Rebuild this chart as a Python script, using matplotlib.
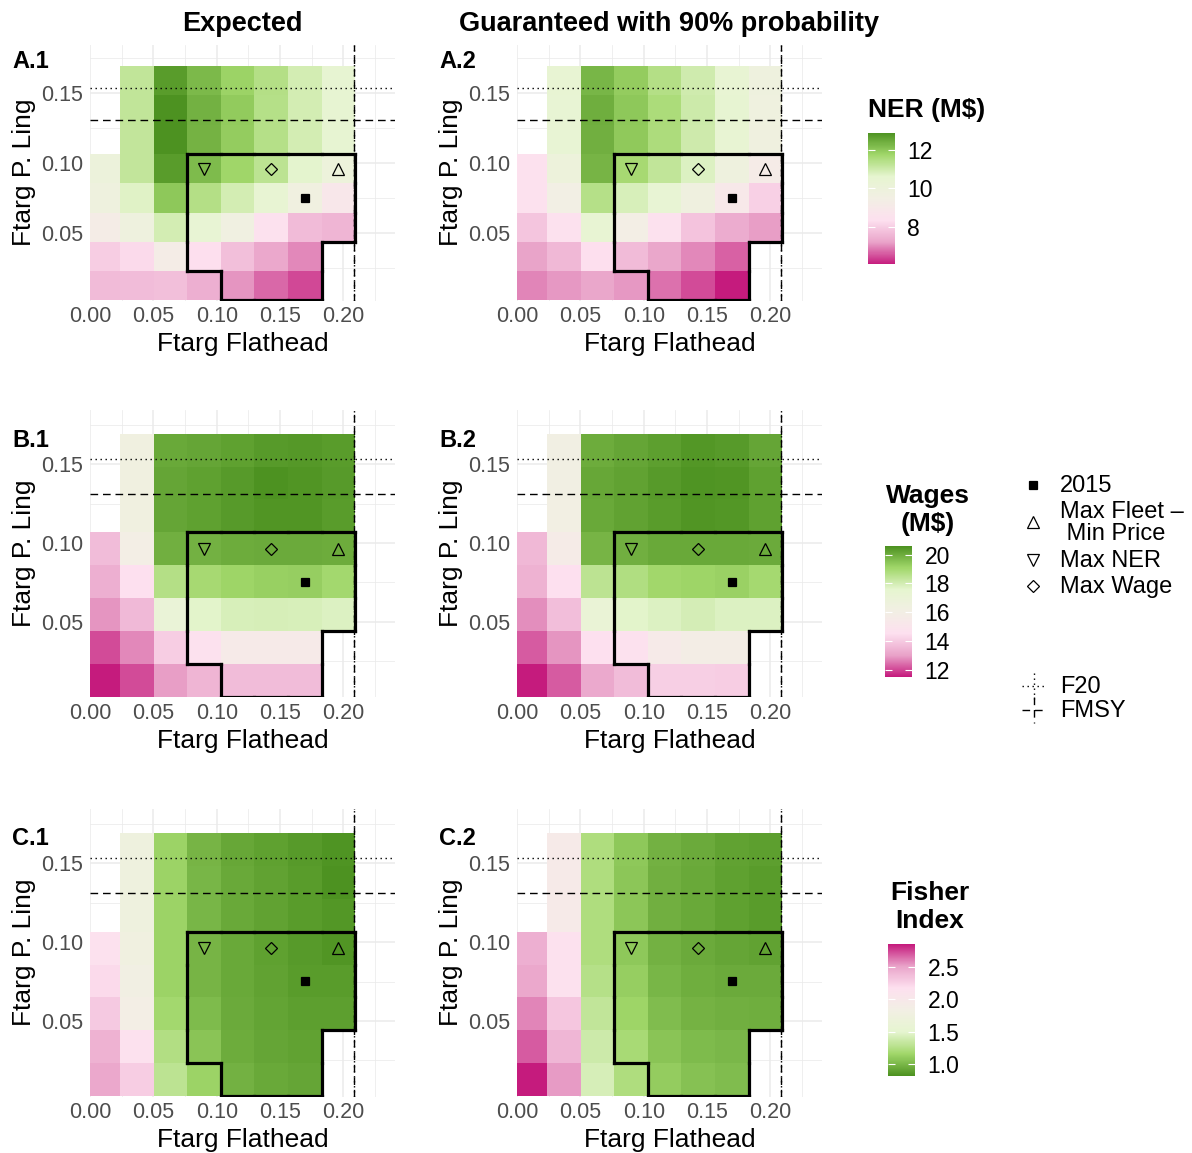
import numpy as np
import matplotlib
matplotlib.use("Agg")
import matplotlib.pyplot as plt
from matplotlib.colors import LinearSegmentedColormap, Normalize
from matplotlib.collections import LineCollection
from matplotlib.lines import Line2D
import matplotlib.cm as cm

plt.rcParams['font.family'] = ['Liberation Sans', 'DejaVu Sans']

W, H, DPI = 1192, 1153, 100
nan = np.nan

# ---------------- data ----------------
ftarg_flathead = [0.0105, 0.037, 0.0635, 0.09, 0.1165, 0.143, 0.1695, 0.196]
# rows listed from top (high Ftarg Ling) to bottom
ftarg_ling = [0.159, 0.1381, 0.1172, 0.0962, 0.0753, 0.0544, 0.0334, 0.0125]

ner_expected = [
    [nan, 11.22, 12.73, 12.25, 11.82, 11.43, 10.94, 10.50],
    [nan, 11.22, 12.90, 12.38, 11.94, 11.41, 10.94, 10.50],
    [nan, 11.20, 12.88, 12.36, 11.92, 11.40, 10.92, 10.48],
    [10.00, 11.20, 12.73, 12.21, 11.77, 11.30, 10.63, 9.95],
    [9.81, 10.70, 12.01, 11.44, 10.94, 10.43, 9.67, 8.90],
    [9.26, 9.81, 10.94, 10.38, 9.60, 8.43, 7.64, 7.51],
    [7.97, 8.23, 9.26, 8.30, 7.71, 7.29, 6.96, nan],
    [7.64, 7.66, 7.72, 7.40, 7.07, 6.70, 6.43, nan],
]
ner_guaranteed = [
    [nan, 10.43, 12.30, 11.92, 11.44, 10.98, 10.43, 9.81],
    [nan, 10.40, 12.42, 12.00, 11.56, 11.03, 10.46, 9.78],
    [nan, 10.38, 12.40, 11.98, 11.54, 11.00, 10.44, 9.76],
    [8.37, 9.95, 12.33, 11.64, 11.22, 10.77, 9.81, 9.19],
    [8.37, 9.47, 11.41, 10.84, 10.38, 9.74, 8.98, 8.02],
    [7.82, 8.37, 10.43, 9.40, 8.37, 7.78, 7.36, 7.15],
    [7.21, 7.57, 8.30, 7.64, 7.25, 6.96, 6.63, nan],
    [6.94, 7.08, 7.25, 7.08, 6.78, 6.44, 6.03, nan],
]
wages_expected = [
    [nan, 16.32, 20.07, 20.15, 20.26, 20.40, 20.44, 20.37],
    [nan, 16.32, 20.17, 20.28, 20.42, 20.60, 20.51, 20.42],
    [nan, 16.30, 20.15, 20.25, 20.40, 20.52, 20.50, 20.37],
    [13.64, 15.96, 19.95, 19.92, 20.00, 20.05, 20.05, 20.00],
    [13.32, 14.59, 18.67, 18.93, 19.12, 19.23, 19.28, 19.03],
    [12.87, 13.59, 17.02, 17.62, 17.87, 17.92, 17.87, 17.78],
    [12.05, 12.74, 14.07, 14.60, 15.50, 15.50, 15.50, nan],
    [11.50, 12.05, 12.98, 13.49, 13.64, 13.66, 13.64, nan],
]
wages_guaranteed = [
    [nan, 16.14, 20.00, 20.15, 20.31, 20.46, 20.40, 20.17],
    [nan, 16.14, 20.11, 20.22, 20.39, 20.55, 20.50, 20.25],
    [nan, 16.12, 20.07, 20.22, 20.37, 20.52, 20.46, 20.25],
    [13.54, 15.69, 19.83, 19.94, 20.07, 20.07, 20.07, 20.05],
    [13.39, 14.59, 18.49, 18.72, 19.05, 19.14, 19.19, 18.98],
    [12.79, 13.67, 17.10, 17.62, 17.78, 17.96, 17.78, 17.78],
    [12.24, 12.87, 14.59, 14.60, 15.50, 15.87, 15.87, nan],
    [11.50, 12.24, 13.19, 13.64, 14.11, 14.11, 14.07, nan],
]
fisher_expected = [
    [nan, 1.73, 1.135, 0.988, 0.925, 0.892, 0.860, 0.825],
    [nan, 1.73, 1.137, 0.990, 0.928, 0.900, 0.866, 0.815],
    [nan, 1.73, 1.137, 0.990, 0.928, 0.900, 0.866, 0.840],
    [2.158, 1.77, 1.140, 0.988, 0.928, 0.892, 0.860, 0.835],
    [2.200, 1.81, 1.140, 0.988, 0.928, 0.900, 0.868, 0.870],
    [2.300, 1.853, 1.170, 1.020, 0.937, 0.905, 0.880, 0.880],
    [2.427, 2.158, 1.242, 1.065, 0.950, 0.917, 0.896, nan],
    [2.478, 2.276, 1.287, 1.135, 0.968, 0.928, 0.917, nan],
]
fisher_guaranteed = [
    [nan, 1.955, 1.226, 1.082, 0.968, 0.937, 0.900, 0.880],
    [nan, 1.955, 1.226, 1.070, 0.960, 0.930, 0.890, 0.866],
    [nan, 1.955, 1.226, 1.070, 0.960, 0.930, 0.890, 0.870],
    [2.443, 2.158, 1.226, 1.082, 0.968, 0.937, 0.917, 0.900],
    [2.478, 2.158, 1.256, 1.114, 0.990, 0.958, 0.937, 0.937],
    [2.587, 2.315, 1.312, 1.147, 1.029, 0.980, 0.963, 0.958],
    [2.685, 2.404, 1.370, 1.191, 1.065, 1.020, 1.004, nan],
    [2.850, 2.530, 1.415, 1.226, 1.106, 1.053, 1.029, nan],
]
# acceptable-region cells (same row order as above)
inside_region = [
    [0, 0, 0, 0, 0, 0, 0, 0],
    [0, 0, 0, 0, 0, 0, 0, 0],
    [0, 0, 0, 0, 0, 0, 0, 0],
    [0, 0, 0, 1, 1, 1, 1, 1],
    [0, 0, 0, 1, 1, 1, 1, 1],
    [0, 0, 0, 1, 1, 1, 1, 1],
    [0, 0, 0, 1, 1, 1, 1, 0],
    [0, 0, 0, 0, 1, 1, 1, 0],
]
point_labels = ["2015", "Max Fleet \u2013\n Min Price", "Max NER", "Max Wage"]
point_x = [0.1695, 0.196, 0.09, 0.143]
point_y = [0.0753, 0.0962, 0.0962, 0.0962]
point_markers = ['s', '^', 'v', 'D']

f20_ling, fmsy_ling = 0.1535, 0.131
f20_flathead, fmsy_flathead = 0.208, 0.208

col_titles = ["Expected", "Guaranteed with 90% probability"]
panel_tags = [["A.1", "A.2"], ["B.1", "B.2"], ["C.1", "C.2"]]
legend_titles = ["NER (M$)", "Wages\n(M$)", "Fisher\nIndex"]
cbar_ticks = [[8, 10, 12], [12, 14, 16, 18, 20], [1.0, 1.5, 2.0, 2.5]]
cbar_fmt = ["{:.0f}", "{:.0f}", "{:.1f}"]
x_ticks = [0.0, 0.05, 0.10, 0.15, 0.20]
y_ticks = [0.05, 0.10, 0.15]

# ---------------- styling ----------------
piyg = ['#c51b7d', '#e9a3c9', '#fde0ef', '#f2efe4', '#e6f5d0', '#a1d76a', '#4d9221']
cmap_pg = LinearSegmentedColormap.from_list('piyg', piyg)
cmap_gp = LinearSegmentedColormap.from_list('piyg_r', piyg[::-1])

fig = plt.figure(figsize=(W / DPI, H / DPI), dpi=DPI)


def rect(l, t, r, b):
    return [l / W, 1 - b / H, (r - l) / W, (b - t) / H]


def ftext(x, y, s, **kw):
    return fig.text(x / W, 1 - y / H, s, **kw)


col_left = [90, 517]
panel_w = 305
row_tb = [(45, 300.5), (410, 697), (809, 1096.5)]
tag_base = [68, 447, 845]

metrics = [(ner_expected, ner_guaranteed, cmap_pg),
           (wages_expected, wages_guaranteed, cmap_pg),
           (fisher_expected, fisher_guaranteed, cmap_gp)]

xc = np.array(ftarg_flathead)
yc = np.array(ftarg_ling)[::-1]
xm = (xc[:-1] + xc[1:]) / 2
xe = np.concatenate([[2 * xc[0] - xm[0]], xm, [2 * xc[-1] - xm[-1]]])
ym = (yc[:-1] + yc[1:]) / 2
ye = np.concatenate([[2 * yc[0] - ym[0]], ym, [2 * yc[-1] - ym[-1]]])
mask = np.array(inside_region, dtype=bool)[::-1]

segs = []
nr, nc = mask.shape
for i in range(nr):
    for j in range(nc):
        if not mask[i, j]:
            continue
        if j == 0 or not mask[i, j - 1]:
            segs.append([(xe[j], ye[i]), (xe[j], ye[i + 1])])
        if j == nc - 1 or not mask[i, j + 1]:
            segs.append([(xe[j + 1], ye[i]), (xe[j + 1], ye[i + 1])])
        if i == 0 or not mask[i - 1, j]:
            segs.append([(xe[j], ye[i]), (xe[j + 1], ye[i])])
        if i == nr - 1 or not mask[i + 1, j]:
            segs.append([(xe[j], ye[i + 1]), (xe[j + 1], ye[i + 1])])

dotted = (0, (1, 2.6))
dashed = (0, (5.5, 3.5))
norms = []
for r, (exp_v, gua_v, cmap) in enumerate(metrics):
    A = np.array(exp_v, dtype=float)
    B = np.array(gua_v, dtype=float)
    vmin = np.nanmin([np.nanmin(A), np.nanmin(B)])
    vmax = np.nanmax([np.nanmax(A), np.nanmax(B)])
    norm = Normalize(vmin, vmax)
    norms.append((norm, cmap))
    top, bot = row_tb[r]
    for c, Z in enumerate([A, B]):
        left = col_left[c]
        ax = fig.add_axes(rect(left, top, left + panel_w, bot))
        Zm = np.ma.masked_invalid(Z[::-1])
        ax.pcolormesh(xc, yc, Zm, cmap=cmap, norm=norm, shading='nearest',
                      antialiased=False, linewidth=0, zorder=1)
        ax.set_xlim(0, 0.2407)
        ax.set_ylim(0.002, 0.1845)
        ax.set_xticks(x_ticks)
        ax.set_xticklabels([f"{v:.2f}" for v in x_ticks])
        ax.set_yticks(y_ticks)
        ax.set_yticklabels([f"{v:.2f}" for v in y_ticks])
        ax.set_xticks([0.025, 0.075, 0.125, 0.175, 0.225], minor=True)
        ax.set_yticks([0.025, 0.075, 0.125, 0.175], minor=True)
        ax.grid(which='major', color='#EBEBEB', lw=1.1)
        ax.grid(which='minor', color='#EBEBEB', lw=0.55)
        ax.set_axisbelow(True)
        for s in ax.spines.values():
            s.set_visible(False)
        ax.tick_params(which='both', length=0, labelsize=15.5, labelcolor='#4D4D4D')
        ax.tick_params(axis='x', pad=4.0)
        ax.tick_params(axis='y', pad=5)
        # reference lines
        ax.axhline(f20_ling, color='black', lw=1.0, ls=dotted, zorder=3)
        ax.axhline(fmsy_ling, color='black', lw=1.0, ls=dashed, zorder=3)
        ax.axvline(f20_flathead, color='black', lw=1.0, ls=dotted, zorder=3)
        ax.axvline(fmsy_flathead, color='black', lw=1.0, ls=dashed, zorder=3)
        # region outline
        ax.add_collection(LineCollection(segs, colors='black', linewidths=2.3,
                                         capstyle='projecting', zorder=4))
        # points
        for px, py, mk in zip(point_x, point_y, point_markers):
            filled = mk == 's'
            ms = {'s': 6, '^': 8, 'v': 8, 'D': 6.5}[mk]
            ax.plot([px], [py], marker=mk, ms=ms, mec='black', mew=0.9,
                    mfc='black' if filled else 'none', ls='none', zorder=5)
        # texts
        ftext(left + panel_w / 2, bot + 51, "Ftarg Flathead", ha='center',
              va='baseline', fontsize=19)
        ftext(left - 66, (top + bot) / 2, "Ftarg P. Ling", rotation=90,
              ha='center', va='center', fontsize=19)
        ftext(left - 78, tag_base[r], panel_tags[r][c], ha='left', va='baseline',
              fontsize=17, fontweight='bold')

for c in range(2):
    ftext(col_left[c] + panel_w / 2, 31, col_titles[c], ha='center',
          va='baseline', fontsize=19.5, fontweight='bold')

# colorbars
cbar_specs = [
    dict(bar=(868, 132.7, 895, 264.3), title_xy=(868, 117), ha='left'),
    dict(bar=(885, 546, 912, 677), title_xy=(928, 531), ha='center'),
    dict(bar=(888, 944, 915, 1076), title_xy=(930, 928), ha='center'),
]
for k, spec in enumerate(cbar_specs):
    norm, cmap = norms[k]
    l, t, r_, b = spec['bar']
    cax = fig.add_axes(rect(l, t, r_, b))
    sm = cm.ScalarMappable(norm=norm, cmap=cmap)
    cb = fig.colorbar(sm, cax=cax, orientation='vertical')
    cb.outline.set_visible(False)
    cb.set_ticks(cbar_ticks[k])
    cb.set_ticklabels([cbar_fmt[k].format(v) for v in cbar_ticks[k]])
    cb.minorticks_off()
    cax.tick_params(which='major', direction='in', length=5, width=0.8,
                    color='white', left=True, right=True, labelsize=16.5,
                    labelcolor='black', pad=9)
    tx, ty = spec['title_xy']
    ftext(tx, ty, legend_titles[k], ha=spec['ha'], va='baseline', fontsize=19,
          fontweight='bold', multialignment='center', linespacing=1.2)

# shape legend
leg_y = [485, 522, 560, 586]
for lab, mk, yy in zip(point_labels, point_markers, leg_y):
    filled = mk == 's'
    ms = {'s': 6, '^': 8, 'v': 8, 'D': 6.5}[mk]
    fig.add_artist(Line2D([1033 / W], [1 - yy / H], marker=mk, ms=ms, mec='black',
                          mew=0.9, mfc='black' if filled else 'none', ls='none',
                          transform=fig.transFigure))
    ftext(1060, yy + 1, lab, ha='left', va='center', fontsize=17, linespacing=1.05)

# line legend
for lab, ls, yy in [("F20", dotted, 686), ("FMSY", dashed, 710)]:
    fig.add_artist(Line2D([1022 / W, 1045 / W], [1 - yy / H, 1 - yy / H], color='black',
                          lw=1.0, ls=ls, transform=fig.transFigure))
    fig.add_artist(Line2D([1033.5 / W, 1033.5 / W], [1 - (yy - 13) / H, 1 - (yy + 13) / H],
                          color='black', lw=1.0, ls=ls, transform=fig.transFigure))
    ftext(1060, yy + 1, lab, ha='left', va='center', fontsize=17)

fig.savefig("out.png", dpi=DPI)
